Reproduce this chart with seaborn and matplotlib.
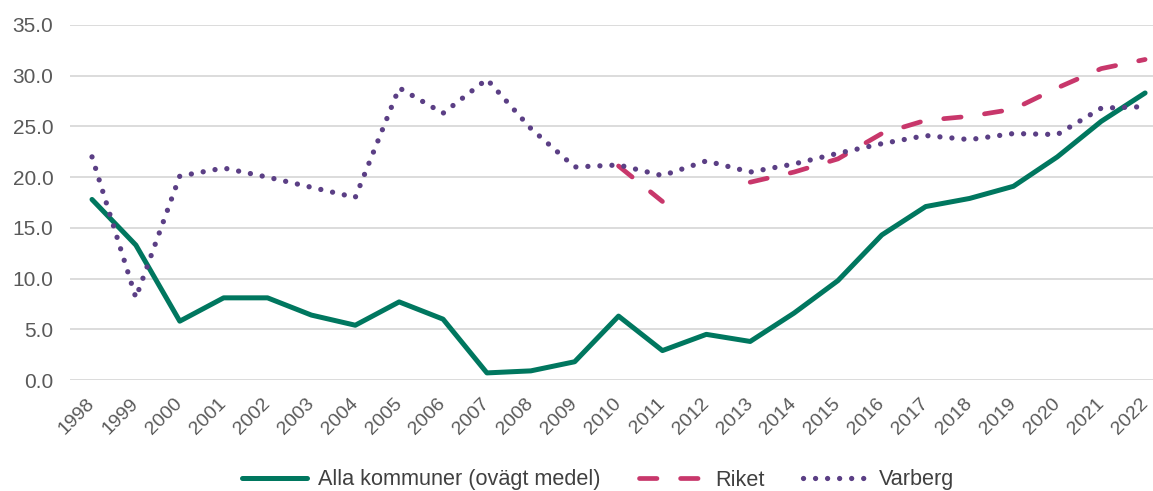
import matplotlib
matplotlib.use("Agg")
import matplotlib.pyplot as plt
import seaborn as sns
import pandas as pd
import numpy as np
from matplotlib.lines import Line2D

years = [str(y) for y in range(1998, 2023)]
alla = [17.8, 13.3, 5.8, 8.1, 8.1, 6.4, 5.4, 7.7, 6.0, 0.7, 0.9, 1.8, 6.3,
        2.9, 4.5, 3.8, 6.6, 9.8, 14.3, 17.1, 17.9, 19.1, 22.0, 25.5, 28.3]
# Riket: no values before 2010, missing 2012
riket = [np.nan] * 12 + [21.1, 17.6, np.nan, 19.5, 20.5, 21.8, 24.3, 25.6,
                         26.0, 26.7, 28.8, 30.7, 31.6]
varberg = [22.0, 8.1, 20.1, 20.9, 20.0, 19.0, 18.0, 28.8, 26.3, 29.65, 24.8,
           21.0, 21.2, 20.15, 21.6, 20.5, 21.3, 22.35, 23.3, 24.1, 23.7, 24.3,
           24.2, 26.8, 26.95]
yticks = [0, 5, 10, 15, 20, 25, 30, 35]
labels = ["Alla kommuner (ovägt medel)", "Riket", "Varberg"]

sns.set_theme(style="white")
plt.rcParams["font.family"] = ["Liberation Sans", "DejaVu Sans"]

c_alla = "#00775F"
c_riket = "#C8376B"
c_varb = "#5B3F85"
tick_col = "#595959"

LW_G = 3.6
LW_R = 3.4
LW_V = 3.8
DASH = [3.7, 5.0]
DOT = (0, (0.01, 2.27))

x = np.arange(len(years))
df_alla = pd.DataFrame({"x": x, "v": alla})
df_varb = pd.DataFrame({"x": x, "v": varberg})
rk = pd.DataFrame({"x": x, "v": riket})
rk["seg"] = rk["v"].isna().cumsum()
rk = rk.dropna()

fig = plt.figure(figsize=(11.53, 4.91), dpi=100)
ax = fig.add_axes([70 / 1153, 111 / 491, 1 - 70 / 1153, 355 / 491])

sns.lineplot(data=df_alla, x="x", y="v", ax=ax, color=c_alla, lw=LW_G,
             solid_capstyle="round", solid_joinstyle="round",
             legend=False, zorder=3)
n0 = len(ax.lines)
sns.lineplot(data=rk, x="x", y="v", units="seg", estimator=None, ax=ax,
             color=c_riket, lw=LW_R, legend=False, zorder=4)
for l in ax.lines[n0:]:
    l.set_dashes(DASH)
    l.set_dash_capstyle("round")
sns.lineplot(data=df_varb, x="x", y="v", ax=ax, color=c_varb, lw=LW_V,
             legend=False, zorder=5)
ax.lines[-1].set_linestyle(DOT)
ax.lines[-1].set_dash_capstyle("round")

ax.set_xlim(-0.5014, 24.18)
ax.set_ylim(0, 35)
ax.set_yticks(yticks)
ax.set_yticklabels([f"{t:.1f}" for t in yticks], fontsize=15, color=tick_col)
ax.set_xticks(x)
ax.set_xticklabels(years, rotation=45, ha="right", va="center",
                   rotation_mode="anchor", fontsize=14, color=tick_col)
ax.tick_params(axis="both", length=0)
ax.tick_params(axis="x", pad=15)
ax.tick_params(axis="y", pad=12)
ax.set_xlabel("")
ax.set_ylabel("")
ax.yaxis.grid(True, color="#D9D9D9", lw=1.3)
ax.xaxis.grid(False)
for s in ax.spines.values():
    s.set_visible(False)

h1 = Line2D([], [], color=c_alla, lw=LW_G, solid_capstyle="round")
h2 = Line2D([], [], color=c_riket, lw=LW_R, dash_capstyle="round")
h2.set_dashes(DASH)
h3 = Line2D([], [], color=c_varb, lw=LW_V, linestyle=DOT, dash_capstyle="round")
fig.legend([h1, h2, h3], labels,
           loc="center", bbox_to_anchor=(598 / 1153, 1 - 480 / 491), ncol=3,
           frameon=False, fontsize=15.6, handlelength=3.0, handletextpad=0.5,
           columnspacing=1.8, labelcolor="#404040", borderaxespad=0)

fig.savefig("out.png", dpi=100)
